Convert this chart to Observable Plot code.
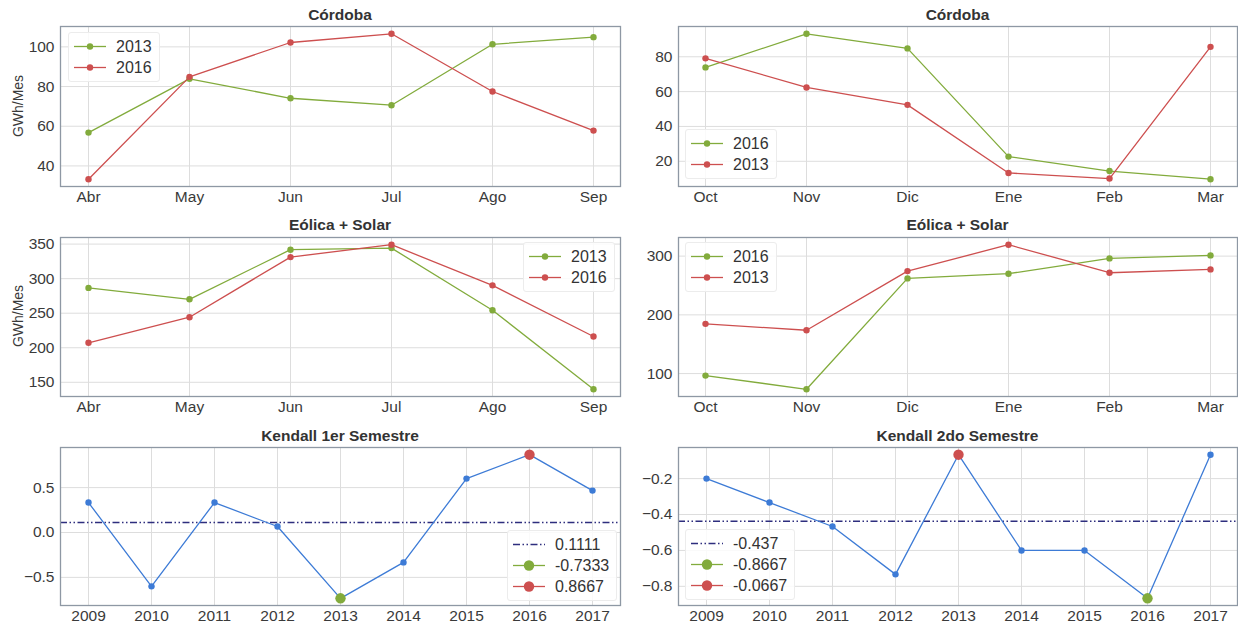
<!DOCTYPE html>
<html><head><meta charset="utf-8">
<script src="https://cdn.jsdelivr.net/npm/d3@7"></script>
<script src="https://cdn.jsdelivr.net/npm/@observablehq/plot@0.6"></script>
<style>
body{margin:0;background:#fff;}
#root{position:relative;width:1238px;height:630px;overflow:hidden;background:#fff;font-family:"Liberation Sans",Arial,sans-serif;color:#333;}
#root svg.plot{position:absolute;}
.title{position:absolute;font-weight:bold;font-size:15.5px;transform:translate(-50%,-50%);white-space:nowrap;color:#333;}
.ylab{position:absolute;font-size:14px;transform:translate(-50%,-50%) rotate(-90deg);white-space:nowrap;color:#3a3a3a;}
.legend{position:absolute;background:rgba(255,255,255,0.85);border:1px solid #ececec;border-radius:3px;padding:3px 7px 3px 4px;font-size:16px;color:#333;}
.legend .row{display:flex;align-items:center;height:21px;}
.legend .row span{margin-left:9px;}
</style>
</head><body>
<div id="root"></div>
<script>
// ---- data ----
const monthsH1 = ["Abr","May","Jun","Jul","Ago","Sep"];
const monthsH2 = ["Oct","Nov","Dic","Ene","Feb","Mar"];
const years = [2009,2010,2011,2012,2013,2014,2015,2016,2017];

const cba1_2013 = [56.8, 83.9, 74.1, 70.6, 101.3, 104.9];
const cba1_2016 = [33.3, 84.9, 102.2, 106.6, 77.5, 57.8];
const cba2_2016 = [73.9, 93.2, 84.8, 22.7, 14.4, 9.7];
const cba2_2013 = [79.1, 62.4, 52.4, 13.3, 10.1, 85.7];
const eol1_2013 = [286.6, 270.1, 341.9, 344.2, 254.3, 139.9];
const eol1_2016 = [207.2, 244.2, 331.2, 349.1, 290.3, 216.3];
const eol2_2016 = [96.6, 73.3, 262.1, 270.1, 296.1, 301.2];
const eol2_2013 = [184.7, 173.8, 274.5, 319.4, 271.7, 277.4];
const kendall1 = [0.3333, -0.6, 0.3333, 0.0667, -0.7333, -0.3333, 0.6, 0.8667, 0.4667];
const kendall2 = [-0.2, -0.3333, -0.4667, -0.7333, -0.0667, -0.6, -0.6, -0.8667, -0.0667];

const ticksCba1 = [40, 60, 80, 100];
const ticksCba2 = [20, 40, 60, 80];
const ticksEol1 = [150, 200, 250, 300, 350];
const ticksEol2 = [100, 200, 300];
const ticksK1 = [-0.5, 0, 0.5];
const ticksK2 = [-0.8, -0.6, -0.4, -0.2];

const titles = ["Córdoba", "Córdoba", "Eólica + Solar", "Eólica + Solar", "Kendall 1er Semestre", "Kendall 2do Semestre"];
const yLabel = "GWh/Mes";

// ---- style ----
const GREEN = "#82ab3c", RED = "#cd4f4f", BLUE = "#3d7bd6", NAVY = "#2e2e7e";
const FRAME = "#8e98a4", GRID = "#dddddd";
const DASH = "7,2.5,1.5,2.5,1.5,2.5";
const TICKFS = 15.5;

const root = document.getElementById("root");

function pad(values){ const mn = d3.min(values), mx = d3.max(values), r = mx - mn; return [mn - 0.05*r, mx + 0.05*r]; }

function panel({cats, series, ticks, fmt, left, top, width, height, mL, mR, mT, mB, kendall}) {
  const rows = [];
  series.forEach(s => s.values.forEach((v,i) => rows.push({x: cats[i], y: v, name: s.name, color: s.color})));
  const all = rows.map(d => d.y);
  const marks = [
    Plot.gridX(cats, {stroke: GRID, strokeOpacity: 1, strokeWidth: 1}),
    Plot.gridY(ticks, {stroke: GRID, strokeOpacity: 1, strokeWidth: 1}),
    Plot.axisX({tickSize: 0, tickPadding: 4, fontSize: TICKFS, fill: "#3a3a3a", label: null, tickFormat: d => String(d)}),
    Plot.axisY(ticks, {tickSize: 0, tickPadding: 6, fontSize: TICKFS, fill: "#3a3a3a", label: null, tickFormat: fmt}),
  ];
  if (kendall) {
    const mean = d3.mean(kendall.values);
    marks.push(Plot.ruleY([mean], {stroke: NAVY, strokeWidth: 1.5, strokeDasharray: DASH}));
  }
  series.forEach(s => {
    const data = rows.filter(d => d.name === s.name);
    marks.push(Plot.line(data, {x: "x", y: "y", stroke: s.color, strokeWidth: 1.3}));
    marks.push(Plot.dot(data, {x: "x", y: "y", fill: s.color, r: 3.2, stroke: "none"}));
  });
  if (kendall) {
    const v = kendall.values;
    const iMin = d3.minIndex(v), iMax = d3.maxIndex(v);
    marks.push(Plot.dot([{x: cats[iMin], y: v[iMin]}], {x: "x", y: "y", fill: GREEN, r: 5.2, stroke: "none"}));
    marks.push(Plot.dot([{x: cats[iMax], y: v[iMax]}], {x: "x", y: "y", fill: RED, r: 5.2, stroke: "none"}));
  }
  marks.push(Plot.frame({stroke: FRAME, strokeWidth: 1.3}));
  const svg = Plot.plot({
    width, height, marginLeft: mL, marginRight: mR, marginTop: mT, marginBottom: mB,
    style: {fontFamily: "'Liberation Sans', Arial, sans-serif", fontSize: TICKFS + "px", background: "transparent", overflow: "visible"},
    x: {type: "point", domain: cats, padding: 0.05 * (cats.length - 1), label: null, axis: null},
    y: {domain: pad(all), label: null, axis: null},
    marks
  });
  svg.classList.add("plot");
  svg.style.left = left + "px";
  svg.style.top = top + "px";
  root.appendChild(svg);
}

function legend(left, top, items) {
  const div = document.createElement("div");
  div.className = "legend";
  div.style.left = left + "px";
  div.style.top = top + "px";
  items.forEach(it => {
    const row = document.createElement("div");
    row.className = "row";
    const dash = it.dash ? `stroke-dasharray="${it.dash}"` : "";
    const sw = it.dash ? 1.5 : 1.3;
    const dot = it.r ? `<circle cx="17" cy="10.5" r="${it.r}" fill="${it.color}"/>` : "";
    row.innerHTML = `<svg width="34" height="21"><line x1="1" x2="33" y1="10.5" y2="10.5" stroke="${it.color}" stroke-width="${sw}" ${dash}/>${dot}</svg><span>${it.label}</span>`;
    div.appendChild(row);
  });
  root.appendChild(div);
}

function text(cls, x, y, s) {
  const d = document.createElement("div");
  d.className = cls; d.style.left = x + "px"; d.style.top = y + "px"; d.textContent = s;
  root.appendChild(d);
}

const fInt = d3.format("d"), f1 = d3.format(".1f");
const L = {left: 0, width: 622, mL: 60, mR: 2};
const R = {left: 620, width: 618, mL: 58, mR: 1};
const rowsPos = [{top: 0, height: 210, mT: 26, mB: 24}, {top: 210, height: 210, mT: 27, mB: 24}, {top: 420, height: 210, mT: 27, mB: 25}];

panel({cats: monthsH1, series: [{name: "2013", values: cba1_2013, color: GREEN}, {name: "2016", values: cba1_2016, color: RED}], ticks: ticksCba1, fmt: fInt, ...L, ...rowsPos[0]});
panel({cats: monthsH2, series: [{name: "2016", values: cba2_2016, color: GREEN}, {name: "2013", values: cba2_2013, color: RED}], ticks: ticksCba2, fmt: fInt, ...R, ...rowsPos[0]});
panel({cats: monthsH1, series: [{name: "2013", values: eol1_2013, color: GREEN}, {name: "2016", values: eol1_2016, color: RED}], ticks: ticksEol1, fmt: fInt, ...L, ...rowsPos[1]});
panel({cats: monthsH2, series: [{name: "2016", values: eol2_2016, color: GREEN}, {name: "2013", values: eol2_2013, color: RED}], ticks: ticksEol2, fmt: fInt, ...R, ...rowsPos[1]});
panel({cats: years, series: [{name: "k", values: kendall1, color: BLUE}], ticks: ticksK1, fmt: f1, kendall: {values: kendall1}, ...L, ...rowsPos[2]});
panel({cats: years, series: [{name: "k", values: kendall2, color: BLUE}], ticks: ticksK2, fmt: f1, kendall: {values: kendall2}, ...R, ...rowsPos[2]});

// titles
text("title", 340, 15, titles[0]);
text("title", 957.5, 15, titles[1]);
text("title", 340, 225, titles[2]);
text("title", 957.5, 225, titles[3]);
text("title", 340, 436, titles[4]);
text("title", 957.5, 436, titles[5]);
text("ylab", 18, 106, yLabel);
text("ylab", 18, 316, yLabel);

// legends
const r4 = v => String(Math.round(v * 1e4) / 1e4);
legend(68, 32, [{label: "2013", color: GREEN, r: 3.2}, {label: "2016", color: RED, r: 3.2}]);
legend(685, 129, [{label: "2016", color: GREEN, r: 3.2}, {label: "2013", color: RED, r: 3.2}]);
legend(523, 242, [{label: "2013", color: GREEN, r: 3.2}, {label: "2016", color: RED, r: 3.2}]);
legend(685, 242, [{label: "2016", color: GREEN, r: 3.2}, {label: "2013", color: RED, r: 3.2}]);
legend(507, 530, [{label: r4(d3.mean(kendall1)), color: NAVY, dash: DASH}, {label: r4(d3.min(kendall1)), color: GREEN, r: 5.2}, {label: r4(d3.max(kendall1)), color: RED, r: 5.2}]);
legend(685, 529, [{label: r4(d3.mean(kendall2)), color: NAVY, dash: DASH}, {label: r4(d3.min(kendall2)), color: GREEN, r: 5.2}, {label: r4(d3.max(kendall2)), color: RED, r: 5.2}]);
</script>
</body></html>
